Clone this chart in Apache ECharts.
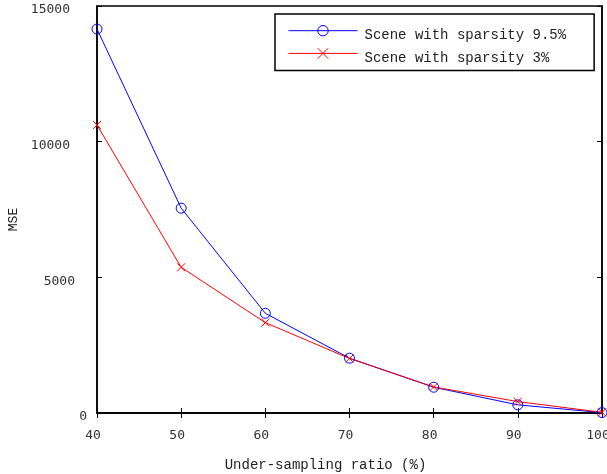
<!DOCTYPE html>
<html>
<head>
<meta charset="utf-8">
<script src="https://cdn.jsdelivr.net/npm/echarts@6/dist/echarts.min.js"></script>
<style>html,body{margin:0;padding:0;background:#fff;}#c{width:607px;height:474px;}</style>
</head>
<body>
<div id="c"></div>
<script>
const ratios = [40, 50, 60, 70, 80, 90, 100];
const mseSparsity95 = [14150, 7550, 3675, 2020, 950, 300, 15];
const mseSparsity3 = [10615, 5370, 3330, 2010, 960, 420, 25];
const seriesNames = ['Scene with sparsity 9.5%', 'Scene with sparsity 3%'];
const xTitle = 'Under-sampling ratio (%)';
const yTitle = 'MSE';

const pairs = (xs, ys) => xs.map((x, i) => [x, ys[i]]);
const tickFont = 'DejaVu Sans Mono';
const textFont = 'Liberation Mono';
const crossPath = 'path://M0,0L10,10M10,0L0,10';

const chart = echarts.init(document.getElementById('c'), null, {renderer: 'canvas'});
const yPad = {0: 0, 5000: 12, 10000: 17, 15000: 17};
chart.setOption({
  animation: false,
  backgroundColor: '#fff',
  grid: {left: 97, right: 5, top: 6, bottom: 61, containLabel: false, outerBoundsMode: 'none',
         show: true, borderColor: '#000', borderWidth: 1.5, backgroundColor: 'transparent'},
  legend: {
    left: 275, top: 14, orient: 'vertical',
    padding: [11, 28, 5, 13],
    itemGap: 5, itemWidth: 69, itemHeight: 13,
    borderColor: '#000', borderWidth: 1.5, backgroundColor: '#fff',
    itemStyle: {borderWidth: 1},
    lineStyle: {width: 1},
    formatter: name => '{t|' + name + '}',
    textStyle: {fontFamily: textFont, fontSize: 14, color: '#222',
      rich: {t: {fontFamily: textFont, fontSize: 14, color: '#222', padding: [10, 0, 0, 2]}}},
    data: seriesNames
  },
  xAxis: [{
    type: 'value', min: 40, max: 100, interval: 10,
    name: xTitle, nameLocation: 'middle', nameGap: 45,
    nameTextStyle: {fontFamily: textFont, fontSize: 14, color: '#222', padding: [0, 48, 0, 0]},
    axisLine: {show: true, lineStyle: {color: '#000', width: 1.5}},
    axisTick: {show: true, inside: true, length: 5, lineStyle: {color: '#000'}},
    axisLabel: {fontFamily: tickFont, fontSize: 13, color: '#333', margin: 16, padding: [0, 8, 0, 0]},
    splitLine: {show: false}
  }, {
    type: 'value', min: 40, max: 100, interval: 10, position: 'top',
    axisLine: {show: true, lineStyle: {color: '#000', width: 1.5}},
    axisTick: {show: true, inside: true, length: 5, lineStyle: {color: '#000'}},
    axisLabel: {show: false}, splitLine: {show: false}
  }],
  yAxis: [{
    type: 'value', min: 0, max: 15000, interval: 5000,
    name: yTitle, nameLocation: 'middle', nameGap: 77, nameRotate: 90,
    nameTextStyle: {fontFamily: textFont, fontSize: 13, color: '#222', padding: [0, 20, 0, 0]},
    axisLine: {show: true, lineStyle: {color: '#000', width: 1.5}},
    axisTick: {show: true, inside: true, length: 5, lineStyle: {color: '#000'}},
    axisLabel: {
      fontFamily: tickFont, fontSize: 13, color: '#333', margin: 10,
      formatter: v => '{p' + (yPad[v] || 0) + '|' + v + '}',
      rich: {
        p0: {fontFamily: tickFont, fontSize: 13, color: '#333', padding: [8, 0, 0, 0]},
        p12: {fontFamily: tickFont, fontSize: 13, color: '#333', padding: [8, 12, 0, 0]},
        p17: {fontFamily: tickFont, fontSize: 13, color: '#333', padding: [8, 17, 0, 0]}
      }
    },
    splitLine: {show: false}
  }, {
    type: 'value', min: 0, max: 15000, interval: 5000, position: 'right',
    axisLine: {show: true, lineStyle: {color: '#000', width: 1.5}},
    axisTick: {show: true, inside: true, length: 5, lineStyle: {color: '#000'}},
    axisLabel: {show: false}, splitLine: {show: false}
  }],
  series: [{
    name: seriesNames[0], type: 'line', data: pairs(ratios, mseSparsity95),
    symbol: 'circle', symbolSize: 10,
    lineStyle: {color: '#0000ff', width: 1},
    itemStyle: {color: 'rgba(0,0,0,0)', borderColor: '#0000ff', borderWidth: 1}
  }, {
    name: seriesNames[1], type: 'line', data: pairs(ratios, mseSparsity3),
    symbol: crossPath, symbolSize: 8,
    lineStyle: {color: '#ff0000', width: 1},
    itemStyle: {color: 'rgba(0,0,0,0)', borderColor: '#ff0000', borderWidth: 1}
  }]
});
</script>
</body>
</html>
